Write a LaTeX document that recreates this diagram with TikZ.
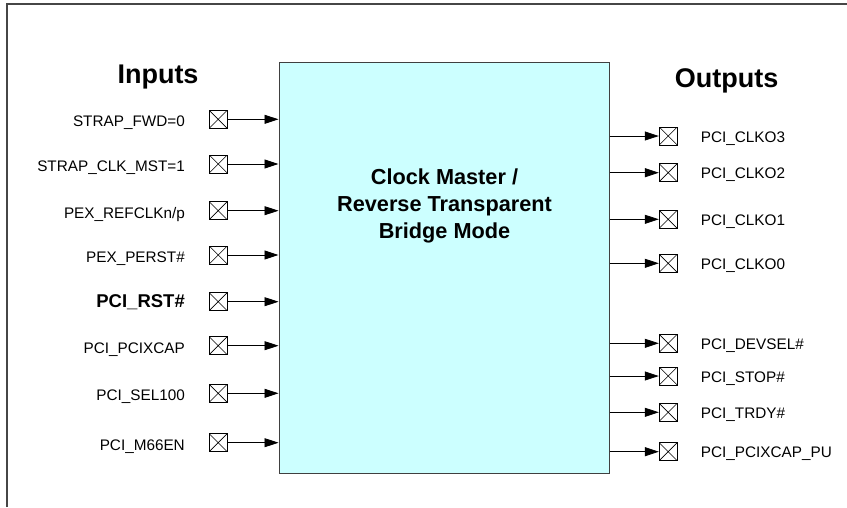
\documentclass[tikz,border=0pt]{standalone}
\usepackage{fontspec}
\setmainfont{Liberation Sans}
\usetikzlibrary{arrows.meta}
\definecolor{boxfill}{RGB}{204,255,255}
\definecolor{boxline}{RGB}{64,64,64}
\definecolor{framegray}{RGB}{70,70,70}
\tikzset{
  pin/.style={draw=black, line width=0.8pt, fill=white, minimum size=18pt, inner sep=0pt,
    path picture={\draw[line width=0.6pt] (path picture bounding box.north west) -- (path picture bounding box.south east)
      (path picture bounding box.south west) -- (path picture bounding box.north east);}},
  arr/.style={line width=0.8pt, -{Triangle[length=14pt,width=9pt]}},
  lbl/.style={font=\fontsize{15.3}{18}\selectfont, inner sep=0pt},
  lblbold/.style={font=\fontsize{18.5}{22}\selectfont\bfseries, inner sep=0pt},
  head/.style={font=\fontsize{27}{32}\selectfont\bfseries, inner sep=0pt, anchor=base},
}
\begin{document}
\begin{tikzpicture}[x=1pt,y=-1pt]
\useasboundingbox (0,0) rectangle (847,507);
% outer frame (partly cut off)
\draw[framegray, line width=1.2pt] (7,507) -- (7,4) -- (847,4);
% main block
\node[draw=boxline, fill=boxfill, line width=1pt, minimum width=330pt, minimum height=411pt, inner sep=0pt] (main) at (444,267.5) {};
\node[font=\fontsize{21.7}{27}\selectfont\bfseries, align=center, inner sep=0pt] (title) at (444.5,206) {Clock Master /\\Reverse Transparent\\Bridge Mode};
% headers
\node[head] (inhead) at (158,83.3) {Inputs};
\node[head] (outhead) at (726.7,87.3) {Outputs};
% inputs
\foreach \i/\y/\t in {1/119.3/{STRAP\_FWD=0}, 2/164/{STRAP\_CLK\_MST=1}, 3/210.7/{PEX\_REFCLKn/p}, 4/255/{PEX\_PERST\#}, 6/345.7/{PCI\_PCIXCAP}, 7/393.3/{PCI\_SEL100}, 8/442.7/{PCI\_M66EN}}{
  \node[pin] (in\i) at (218.2,\y) {};
  \node[lbl, anchor=base east] (inl\i) at (185,\y+7.5) {\t};
  \draw[arr] (in\i.east) -- (main.west |- in\i.east);
}
\node[pin] (in5) at (218.2,301.7) {};
\node[lblbold, anchor=base east] (inl5) at (185,307) {PCI\_RST\#};
\draw[arr] (in5.east) -- (main.west |- in5.east);
% outputs
\foreach \i/\y/\t in {1/136/{PCI\_CLKO3}, 2/172.7/{PCI\_CLKO2}, 3/219.3/{PCI\_CLKO1}, 4/263.3/{PCI\_CLKO0}, 5/343.3/{PCI\_DEVSEL\#}, 6/376/{PCI\_STOP\#}, 7/412.3/{PCI\_TRDY\#}, 8/451.7/{PCI\_PCIXCAP\_PU}}{
  \node[pin] (out\i) at (668.2,\y) {};
  \node[lbl, anchor=base west] (outl\i) at (700.7,\y+6) {\t};
  \draw[arr] (main.east |- out\i.west) -- (out\i.west);
}
\end{tikzpicture}
\end{document}
